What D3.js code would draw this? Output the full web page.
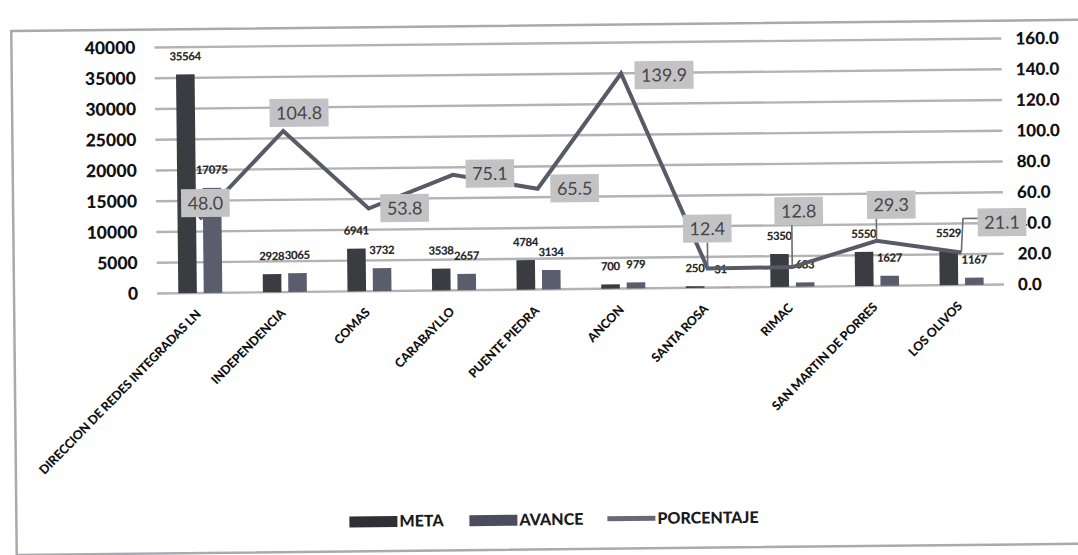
<!DOCTYPE html>
<html>
<head>
<meta charset="utf-8">
<script src="https://cdn.jsdelivr.net/npm/d3@7"></script>
<style>
  html, body { margin: 0; padding: 0; background: #ffffff; }
  svg { display: block; }
</style>
</head>
<body>
<svg id="chart" width="1078" height="555"></svg>
<script>
// ---- data ----
const categories = ["DIRECCION DE REDES INTEGRADAS LN", "INDEPENDENCIA", "COMAS", "CARABAYLLO",
  "PUENTE PIEDRA", "ANCON", "SANTA ROSA", "RIMAC", "SAN MARTIN DE PORRES", "LOS OLIVOS"];
const meta       = [35564, 2928, 6941, 3538, 4784, 700, 250, 5350, 5550, 5529];
const avance     = [17075, 3065, 3732, 2657, 3134, 979, 31, 683, 1627, 1167];
const porcentaje = [48.0, 104.8, 53.8, 75.1, 65.5, 139.9, 12.4, 12.8, 29.3, 21.1];
const leftTicks  = [0, 5000, 10000, 15000, 20000, 25000, 30000, 35000, 40000];
const rightTicks = [0, 20, 40, 60, 80, 100, 120, 140, 160];
const seriesNames = ["META", "AVANCE", "PORCENTAJE"];

// ---- layout (label box offsets relative to their point) ----
const boxOffsets = [[6,-16],[16,-18],[36,0],[37,-1],[37,0],[43,2],[0,-40],[7,-56],[15,-36],[41,-30]];
const hasLeader  = [false,false,false,false,false,false,true,true,true,true];

const svg = d3.select("#chart");
const g = svg.append("g").attr("transform", "rotate(-0.6, 580, 290)");

const x0 = d3.scaleBand().domain(categories).range([158, 1004]).paddingInner(0.48).paddingOuter(0.24);
const x1 = d3.scaleBand().domain(["META", "AVANCE"]).range([0, x0.bandwidth()]).paddingInner(0.27);
const yL = d3.scaleLinear().domain([0, 40000]).range([289, 43]);
const yR = d3.scaleLinear().domain([0, 160]).range([289, 43]);

const cMeta = "#3b3c42", cAv = "#5a5d6c", cLine = "#585b66";
const fontAx = "Lato, 'Liberation Sans', sans-serif";

// frame
g.append("rect").attr("x", 14).attr("y", 25).attr("width", 1200).attr("height", 524)
  .attr("fill", "none").attr("stroke", "#a9a9b0").attr("stroke-width", 2.5);

// gridlines
g.append("g").selectAll("line").data(leftTicks).join("line")
  .attr("x1", 157).attr("x2", 1004)
  .attr("y1", d => yL(d)).attr("y2", d => yL(d))
  .attr("stroke", "#b3b3b6").attr("stroke-width", 2.4);

// left axis
const axL = g.append("g").attr("transform", "translate(158,0)")
  .call(d3.axisLeft(yL).tickValues(leftTicks).tickSize(0).tickPadding(20).tickFormat(d3.format("d")));
axL.select(".domain").remove();
axL.selectAll("text").attr("font-family", fontAx).attr("font-weight", 900)
  .attr("font-size", 17.5).attr("fill", "#111");

// right axis
const axR = g.append("g").attr("transform", "translate(1004,0)")
  .call(d3.axisRight(yR).tickValues(rightTicks).tickSize(0).tickPadding(14).tickFormat(d3.format(".1f")));
axR.select(".domain").remove();
axR.selectAll("text").attr("font-family", fontAx).attr("font-weight", 900)
  .attr("font-size", 17).attr("fill", "#111");

// category labels
const axB = g.append("g").attr("transform", "translate(0,289)")
  .call(d3.axisBottom(x0).tickSize(0).tickPadding(0));
axB.select(".domain").remove();
axB.selectAll(".tick text")
  .attr("font-family", fontAx).attr("font-weight", 900).attr("font-size", 12.5)
  .attr("letter-spacing", -0.2)
  .attr("fill", "#111").attr("text-anchor", "end").attr("dy", 0)
  .attr("transform", "translate(1,22) rotate(-45)");

// bar value labels (drawn under bars)
const rows = categories.map((c, i) => ({ c, i, META: meta[i], AVANCE: avance[i] }));
const valG = g.append("g");
rows.forEach(r => {
  ["META", "AVANCE"].forEach(k => {
    valG.append("text")
      .attr("x", x0(r.c) + x1(k) + x1.bandwidth() / 2)
      .attr("y", yL(r[k]) - 14)
      .attr("text-anchor", "middle")
      .attr("font-family", fontAx).attr("font-weight", 900).attr("font-size", 11.5)
      .attr("letter-spacing", -0.4)
      .attr("fill", "#2a2a2a").text(r[k]);
  });
});

// bars
const barG = g.append("g").selectAll("g").data(rows).join("g")
  .attr("transform", d => `translate(${x0(d.c)},0)`);
barG.selectAll("rect").data(d => ["META", "AVANCE"].map(k => ({ k, v: d[k] }))).join("rect")
  .attr("x", d => x1(d.k)).attr("width", x1.bandwidth())
  .attr("y", d => yL(d.v)).attr("height", d => yL(0) - yL(d.v))
  .attr("fill", d => d.k === "META" ? cMeta : cAv);

// line
const pts = categories.map((c, i) => [x0(c) + x0.bandwidth() / 2, yR(porcentaje[i])]);
g.append("path").attr("d", d3.line()(pts)).attr("fill", "none")
  .attr("stroke", cLine).attr("stroke-width", 4).attr("stroke-linejoin", "miter");

// percentage label boxes
const labG = g.append("g");
pts.forEach((p, i) => {
  const cx = p[0] + boxOffsets[i][0], cy = p[1] + boxOffsets[i][1];
  const grp = labG.append("g");
  const t = grp.append("text").attr("x", cx).attr("y", cy).attr("dy", "0.36em")
    .attr("text-anchor", "middle")
    .attr("font-family", "Lato, 'Open Sans', sans-serif").attr("font-size", 18)
    .attr("fill", "#474747").text(porcentaje[i].toFixed(1));
  const w = t.node().getComputedTextLength() + 13, h = 28;
  if (hasLeader[i]) {
    let path;
    if (Math.abs(p[0] - cx) > w / 2) {
      path = `M${cx - w / 2},${cy - 4} L${p[0] + 2},${cy - 4} L${p[0]},${p[1]}`;
    } else {
      path = `M${p[0]},${cy + h / 2} L${p[0]},${p[1]}`;
    }
    labG.insert("path", ":first-child").attr("d", path).attr("fill", "none")
      .attr("stroke", "#6a6c74").attr("stroke-width", 1.6);
  }
  grp.insert("rect", "text").attr("x", cx - w / 2).attr("y", cy - h / 2)
    .attr("width", w).attr("height", h).attr("fill", "#c3c3c6");
});

// legend
const lg = g.append("g").attr("font-family", fontAx).attr("font-weight", 900)
  .attr("font-size", 16).attr("fill", "#1a1a1a");
const ly = 519;
lg.append("rect").attr("x", 347).attr("y", ly - 5).attr("width", 48).attr("height", 11).attr("fill", "#2f3036");
lg.append("text").attr("x", 397).attr("y", ly).attr("dy", "0.36em").text(seriesNames[0]);
lg.append("rect").attr("x", 467).attr("y", ly - 5).attr("width", 48).attr("height", 11).attr("fill", "#4b4c5e");
lg.append("text").attr("x", 517).attr("y", ly).attr("dy", "0.36em").text(seriesNames[1]);
lg.append("line").attr("x1", 605).attr("x2", 653).attr("y1", ly).attr("y2", ly)
  .attr("stroke", "#676878").attr("stroke-width", 5);
lg.append("text").attr("x", 655).attr("y", ly).attr("dy", "0.36em").text(seriesNames[2]);
</script>
</body>
</html>
